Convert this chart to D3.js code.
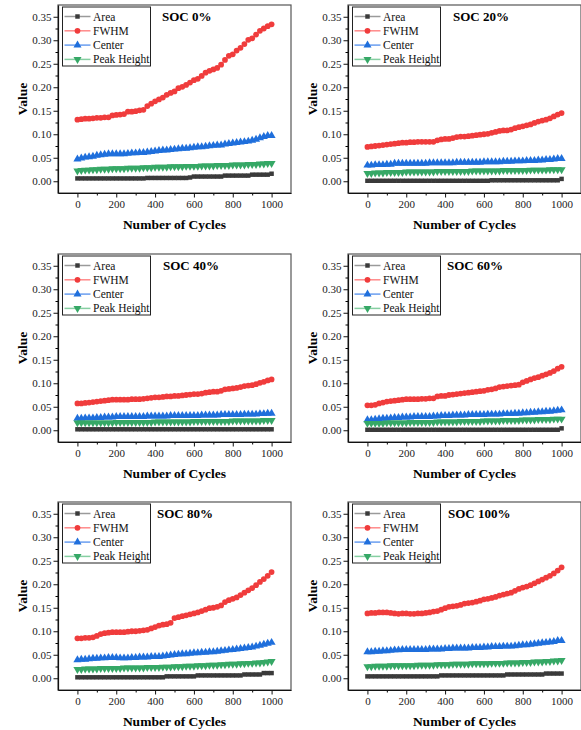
<!DOCTYPE html>
<html>
<head>
<meta charset="utf-8">
<script src="https://cdn.jsdelivr.net/npm/d3@7"></script>
<style>
  body { margin: 0; background: #fff; }
  svg text { font-family: "Liberation Serif", "Times New Roman", serif; }
</style>
</head>
<body>
<svg id="chart" width="581" height="730"></svg>
<script>
// cycle numbers on the x axis
let cycles = [0, 20, 40, 60, 80, 100, 120, 140, 160, 180,
  200, 220, 240, 260, 280, 300, 320, 340, 360, 380,
  400, 420, 440, 460, 480, 500, 520, 540, 560, 580,
  600, 620, 640, 660, 680, 700, 720, 740, 760, 780,
  800, 820, 840, 860, 880, 900, 920, 940, 960, 980,
  1000];

let seriesNames = ["Area", "FWHM", "Center", "Peak Height"];
let panelTitles = ["SOC 0%", "SOC 20%", "SOC 40%", "SOC 60%", "SOC 80%", "SOC 100%"];
let xTicks = [0, 200, 400, 600, 800, 1000];
let yTicks = [0, 0.05, 0.10, 0.15, 0.20, 0.25, 0.30, 0.35];

// SOC 0%
let area0 = [0.006, 0.006, 0.006, 0.006, 0.006, 0.006, 0.006, 0.006, 0.006, 0.006,
  0.006, 0.006, 0.006, 0.006, 0.006, 0.006, 0.006, 0.006, 0.007, 0.007,
  0.007, 0.007, 0.007, 0.007, 0.007, 0.007, 0.007, 0.007, 0.007, 0.008,
  0.010, 0.010, 0.010, 0.010, 0.010, 0.010, 0.010, 0.010, 0.012, 0.012,
  0.012, 0.012, 0.012, 0.012, 0.012, 0.014, 0.014, 0.014, 0.014, 0.014,
  0.016];
let fwhm0 = [0.131, 0.132, 0.133, 0.133, 0.134, 0.135, 0.135, 0.136, 0.136, 0.140,
  0.141, 0.142, 0.143, 0.148, 0.148, 0.149, 0.151, 0.152, 0.160, 0.165,
  0.170, 0.174, 0.178, 0.184, 0.188, 0.191, 0.198, 0.201, 0.205, 0.210,
  0.215, 0.218, 0.224, 0.231, 0.235, 0.238, 0.241, 0.248, 0.258, 0.267,
  0.270, 0.278, 0.284, 0.292, 0.301, 0.304, 0.312, 0.320, 0.325, 0.330,
  0.334];
let center0 = [0.047, 0.049, 0.051, 0.052, 0.053, 0.055, 0.056, 0.057, 0.058, 0.058,
  0.058, 0.058, 0.058, 0.059, 0.060, 0.060, 0.061, 0.061, 0.062, 0.063,
  0.064, 0.065, 0.066, 0.066, 0.067, 0.068, 0.069, 0.070, 0.070, 0.071,
  0.072, 0.073, 0.073, 0.074, 0.075, 0.076, 0.077, 0.077, 0.079, 0.080,
  0.081, 0.082, 0.083, 0.084, 0.085, 0.087, 0.089, 0.092, 0.095, 0.097,
  0.097];
let peak0 = [0.022, 0.023, 0.024, 0.024, 0.025, 0.025, 0.026, 0.026, 0.026, 0.027,
  0.027, 0.027, 0.027, 0.028, 0.028, 0.028, 0.028, 0.029, 0.029, 0.029,
  0.030, 0.030, 0.030, 0.030, 0.031, 0.031, 0.031, 0.031, 0.032, 0.032,
  0.032, 0.032, 0.033, 0.033, 0.033, 0.033, 0.034, 0.034, 0.034, 0.034,
  0.035, 0.035, 0.035, 0.035, 0.036, 0.036, 0.036, 0.037, 0.037, 0.038,
  0.038];

// SOC 20%
let area20 = [0.001, 0.001, 0.001, 0.001, 0.001, 0.001, 0.001, 0.001, 0.001, 0.001,
  0.001, 0.001, 0.001, 0.001, 0.001, 0.001, 0.001, 0.001, 0.001, 0.001,
  0.001, 0.001, 0.001, 0.001, 0.001, 0.001, 0.001, 0.001, 0.001, 0.001,
  0.001, 0.001, 0.002, 0.002, 0.002, 0.002, 0.002, 0.002, 0.002, 0.002,
  0.002, 0.002, 0.002, 0.002, 0.002, 0.002, 0.002, 0.002, 0.002, 0.002,
  0.005];
let fwhm20 = [0.073, 0.074, 0.075, 0.076, 0.077, 0.078, 0.079, 0.080, 0.081, 0.082,
  0.082, 0.083, 0.083, 0.084, 0.084, 0.084, 0.084, 0.084, 0.087, 0.089,
  0.090, 0.090, 0.092, 0.094, 0.095, 0.095, 0.096, 0.097, 0.098, 0.099,
  0.100, 0.101, 0.103, 0.105, 0.107, 0.108, 0.108, 0.110, 0.113, 0.115,
  0.117, 0.119, 0.121, 0.124, 0.127, 0.129, 0.131, 0.134, 0.138, 0.142,
  0.145];
let center20 = [0.034, 0.034, 0.035, 0.035, 0.035, 0.036, 0.036, 0.038, 0.038, 0.038,
  0.038, 0.038, 0.038, 0.038, 0.038, 0.038, 0.039, 0.039, 0.039, 0.039,
  0.039, 0.039, 0.039, 0.040, 0.040, 0.040, 0.040, 0.040, 0.040, 0.040,
  0.041, 0.041, 0.041, 0.041, 0.041, 0.042, 0.042, 0.042, 0.043, 0.043,
  0.043, 0.044, 0.044, 0.044, 0.045, 0.045, 0.046, 0.046, 0.047, 0.048,
  0.048];
let peak20 = [0.017, 0.017, 0.018, 0.018, 0.018, 0.019, 0.019, 0.019, 0.019, 0.019,
  0.020, 0.020, 0.020, 0.020, 0.020, 0.020, 0.020, 0.020, 0.021, 0.021,
  0.021, 0.021, 0.021, 0.021, 0.021, 0.021, 0.021, 0.022, 0.022, 0.022,
  0.022, 0.022, 0.022, 0.022, 0.022, 0.023, 0.023, 0.023, 0.023, 0.023,
  0.023, 0.023, 0.024, 0.024, 0.024, 0.024, 0.024, 0.025, 0.025, 0.025,
  0.025];

// SOC 40%
let area40 = [0.002, 0.002, 0.002, 0.002, 0.002, 0.002, 0.002, 0.002, 0.002, 0.002,
  0.002, 0.002, 0.002, 0.002, 0.002, 0.002, 0.002, 0.002, 0.002, 0.002,
  0.002, 0.002, 0.002, 0.002, 0.002, 0.002, 0.002, 0.002, 0.002, 0.002,
  0.002, 0.002, 0.002, 0.002, 0.002, 0.002, 0.002, 0.002, 0.002, 0.002,
  0.002, 0.002, 0.002, 0.002, 0.002, 0.002, 0.002, 0.002, 0.002, 0.002,
  0.002];
let fwhm40 = [0.057, 0.057, 0.058, 0.059, 0.060, 0.061, 0.062, 0.063, 0.064, 0.065,
  0.065, 0.065, 0.065, 0.065, 0.066, 0.066, 0.066, 0.067, 0.068, 0.069,
  0.070, 0.070, 0.071, 0.072, 0.072, 0.073, 0.073, 0.074, 0.075, 0.076,
  0.077, 0.077, 0.078, 0.080, 0.081, 0.082, 0.082, 0.084, 0.087, 0.088,
  0.089, 0.090, 0.092, 0.094, 0.095, 0.096, 0.098, 0.101, 0.103, 0.106,
  0.108];
let center40 = [0.025, 0.025, 0.026, 0.026, 0.026, 0.027, 0.027, 0.028, 0.028, 0.028,
  0.029, 0.029, 0.029, 0.029, 0.029, 0.029, 0.029, 0.029, 0.030, 0.030,
  0.030, 0.030, 0.030, 0.030, 0.031, 0.031, 0.031, 0.031, 0.031, 0.031,
  0.031, 0.031, 0.032, 0.032, 0.032, 0.032, 0.032, 0.033, 0.033, 0.033,
  0.033, 0.033, 0.033, 0.034, 0.034, 0.034, 0.034, 0.035, 0.035, 0.036,
  0.036];
let peak40 = [0.016, 0.016, 0.016, 0.016, 0.016, 0.016, 0.016, 0.016, 0.016, 0.016,
  0.017, 0.017, 0.017, 0.017, 0.017, 0.017, 0.017, 0.017, 0.017, 0.017,
  0.018, 0.018, 0.018, 0.018, 0.018, 0.018, 0.018, 0.018, 0.018, 0.018,
  0.019, 0.019, 0.019, 0.019, 0.019, 0.019, 0.019, 0.019, 0.019, 0.019,
  0.020, 0.020, 0.020, 0.020, 0.020, 0.020, 0.020, 0.020, 0.021, 0.021,
  0.021];

// SOC 60%
let area60 = [0.001, 0.001, 0.001, 0.001, 0.001, 0.001, 0.001, 0.001, 0.001, 0.001,
  0.001, 0.001, 0.001, 0.001, 0.001, 0.001, 0.001, 0.001, 0.001, 0.001,
  0.001, 0.001, 0.001, 0.001, 0.001, 0.001, 0.001, 0.001, 0.001, 0.001,
  0.001, 0.001, 0.001, 0.001, 0.001, 0.001, 0.001, 0.001, 0.001, 0.001,
  0.001, 0.001, 0.001, 0.001, 0.001, 0.001, 0.001, 0.001, 0.001, 0.001,
  0.004];
let fwhm60 = [0.053, 0.053, 0.054, 0.057, 0.059, 0.061, 0.062, 0.063, 0.064, 0.065,
  0.066, 0.066, 0.066, 0.066, 0.067, 0.067, 0.068, 0.068, 0.072, 0.073,
  0.073, 0.075, 0.076, 0.077, 0.078, 0.079, 0.080, 0.081, 0.082, 0.083,
  0.084, 0.086, 0.087, 0.089, 0.092, 0.093, 0.094, 0.095, 0.096, 0.097,
  0.102, 0.105, 0.108, 0.111, 0.113, 0.116, 0.119, 0.122, 0.126, 0.131,
  0.135];
let center60 = [0.022, 0.022, 0.023, 0.024, 0.025, 0.025, 0.026, 0.027, 0.027, 0.028,
  0.028, 0.028, 0.029, 0.029, 0.029, 0.029, 0.029, 0.030, 0.030, 0.031,
  0.031, 0.031, 0.032, 0.032, 0.032, 0.032, 0.033, 0.033, 0.033, 0.033,
  0.033, 0.034, 0.034, 0.034, 0.034, 0.035, 0.035, 0.035, 0.036, 0.036,
  0.037, 0.037, 0.038, 0.038, 0.039, 0.039, 0.040, 0.040, 0.041, 0.042,
  0.043];
let peak60 = [0.015, 0.015, 0.015, 0.015, 0.015, 0.016, 0.016, 0.016, 0.016, 0.016,
  0.016, 0.017, 0.017, 0.017, 0.017, 0.017, 0.017, 0.017, 0.018, 0.018,
  0.018, 0.018, 0.018, 0.018, 0.019, 0.019, 0.019, 0.019, 0.019, 0.019,
  0.020, 0.020, 0.020, 0.020, 0.020, 0.021, 0.021, 0.021, 0.021, 0.021,
  0.022, 0.022, 0.022, 0.022, 0.023, 0.023, 0.023, 0.023, 0.024, 0.024,
  0.024];

// SOC 80%
let area80 = [0.002, 0.002, 0.002, 0.002, 0.002, 0.002, 0.002, 0.002, 0.002, 0.002,
  0.002, 0.002, 0.002, 0.002, 0.002, 0.002, 0.002, 0.002, 0.002, 0.002,
  0.002, 0.002, 0.002, 0.004, 0.004, 0.004, 0.004, 0.004, 0.004, 0.004,
  0.004, 0.006, 0.006, 0.006, 0.006, 0.006, 0.006, 0.006, 0.006, 0.006,
  0.006, 0.006, 0.006, 0.008, 0.008, 0.008, 0.008, 0.008, 0.011, 0.011,
  0.011];
let fwhm80 = [0.085, 0.085, 0.086, 0.086, 0.087, 0.090, 0.094, 0.096, 0.097, 0.098,
  0.098, 0.098, 0.098, 0.099, 0.100, 0.100, 0.101, 0.102, 0.103, 0.106,
  0.109, 0.112, 0.114, 0.115, 0.118, 0.128, 0.130, 0.132, 0.134, 0.136,
  0.138, 0.140, 0.143, 0.146, 0.149, 0.150, 0.152, 0.155, 0.162, 0.166,
  0.169, 0.172, 0.177, 0.182, 0.187, 0.192, 0.198, 0.205, 0.211, 0.218,
  0.226];
let center80 = [0.039, 0.040, 0.040, 0.041, 0.042, 0.042, 0.043, 0.043, 0.044, 0.044,
  0.044, 0.043, 0.043, 0.043, 0.044, 0.044, 0.045, 0.045, 0.045, 0.046,
  0.046, 0.046, 0.047, 0.048, 0.049, 0.050, 0.051, 0.052, 0.052, 0.053,
  0.054, 0.054, 0.055, 0.055, 0.056, 0.056, 0.057, 0.058, 0.059, 0.060,
  0.061, 0.062, 0.063, 0.064, 0.065, 0.066, 0.068, 0.070, 0.072, 0.074,
  0.076];
let peak80 = [0.019, 0.019, 0.020, 0.020, 0.020, 0.020, 0.021, 0.021, 0.021, 0.021,
  0.021, 0.021, 0.022, 0.022, 0.022, 0.022, 0.022, 0.022, 0.023, 0.023,
  0.023, 0.023, 0.024, 0.024, 0.024, 0.025, 0.025, 0.025, 0.026, 0.026,
  0.026, 0.027, 0.027, 0.027, 0.028, 0.028, 0.028, 0.029, 0.029, 0.030,
  0.030, 0.030, 0.031, 0.031, 0.032, 0.032, 0.033, 0.033, 0.034, 0.035,
  0.036];

// SOC 100%
let area100 = [0.004, 0.004, 0.004, 0.004, 0.004, 0.004, 0.004, 0.004, 0.004, 0.004,
  0.004, 0.004, 0.004, 0.004, 0.004, 0.004, 0.004, 0.004, 0.004, 0.006,
  0.006, 0.006, 0.006, 0.006, 0.006, 0.006, 0.006, 0.006, 0.006, 0.006,
  0.006, 0.006, 0.006, 0.006, 0.006, 0.006, 0.008, 0.008, 0.008, 0.008,
  0.008, 0.008, 0.008, 0.008, 0.008, 0.008, 0.010, 0.010, 0.010, 0.010,
  0.010];
let fwhm100 = [0.138, 0.139, 0.139, 0.140, 0.140, 0.140, 0.139, 0.138, 0.137, 0.138,
  0.138, 0.137, 0.137, 0.138, 0.138, 0.139, 0.140, 0.142, 0.143, 0.146,
  0.149, 0.152, 0.153, 0.154, 0.156, 0.159, 0.160, 0.161, 0.163, 0.165,
  0.168, 0.169, 0.171, 0.173, 0.176, 0.178, 0.180, 0.182, 0.186, 0.190,
  0.193, 0.195, 0.198, 0.202, 0.206, 0.210, 0.214, 0.218, 0.223, 0.229,
  0.236];
let center100 = [0.056, 0.056, 0.057, 0.057, 0.058, 0.058, 0.059, 0.060, 0.060, 0.061,
  0.061, 0.061, 0.061, 0.061, 0.061, 0.061, 0.062, 0.062, 0.062, 0.062,
  0.063, 0.063, 0.064, 0.064, 0.064, 0.064, 0.064, 0.065, 0.065, 0.065,
  0.066, 0.066, 0.067, 0.067, 0.067, 0.068, 0.068, 0.068, 0.069, 0.070,
  0.071, 0.071, 0.072, 0.073, 0.074, 0.075, 0.076, 0.077, 0.078, 0.080,
  0.080];
let peak100 = [0.025, 0.025, 0.026, 0.026, 0.026, 0.026, 0.027, 0.027, 0.027, 0.027,
  0.027, 0.027, 0.027, 0.028, 0.028, 0.028, 0.028, 0.028, 0.029, 0.029,
  0.029, 0.029, 0.030, 0.030, 0.030, 0.030, 0.030, 0.031, 0.031, 0.031,
  0.031, 0.031, 0.032, 0.032, 0.032, 0.032, 0.033, 0.033, 0.033, 0.033,
  0.034, 0.034, 0.034, 0.035, 0.035, 0.035, 0.036, 0.036, 0.037, 0.037,
  0.038];

let panelData = [
  [area0, fwhm0, center0, peak0],
  [area20, fwhm20, center20, peak20],
  [area40, fwhm40, center40, peak40],
  [area60, fwhm60, center60, peak60],
  [area80, fwhm80, center80, peak80],
  [area100, fwhm100, center100, peak100]
];

// layout / style
let colLeft = [58, 348],
    rowTop = [5, 254, 502],
    width = 233,
    height = 188;
let titleDx = [104, 105, 105, 99, 99, 100];

let markerColor = ["#3a3a3a", "#f03c3c", "#1f6fdc", "#36a866"];
let lineColor = ["#9a9a9a", "#ff8a8a", "#6a9ef0", "#86cfa2"];
let symbols = [d3.symbolSquare, d3.symbolCircle, d3.symbolTriangle, d3.symbolTriangle];
let symSize = [20, 26, 28, 28];
let symRot = [0, 0, 0, 180];

let x = d3.scaleLinear().domain([-100, 1100]).range([0, width]);
let y = d3.scaleLinear().domain([-0.025, 0.375]).range([height, 0]);

let svg = d3.select("#chart");

panelData.forEach(function(series, p) {
  let g = svg.append("g")
      .attr("transform", "translate(" + colLeft[p % 2] + "," + rowTop[Math.floor(p / 2)] + ")");

  // frame
  g.append("rect")
      .attr("width", width)
      .attr("height", height)
      .attr("fill", "none")
      .attr("stroke", "#555")
      .attr("stroke-width", 1.2);

  // minor ticks
  g.append("g")
      .attr("transform", "translate(0," + height + ")")
      .call(d3.axisBottom(x).tickValues([100, 300, 500, 700, 900]).tickSize(2.5).tickFormat(""))
      .call(function(a) { a.select(".domain").remove(); });
  g.append("g")
      .call(d3.axisLeft(y).tickValues([0.025, 0.075, 0.125, 0.175, 0.225, 0.275, 0.325]).tickSize(2.5).tickFormat(""))
      .call(function(a) { a.select(".domain").remove(); });

  // major axes
  let xa = g.append("g")
      .attr("transform", "translate(0," + height + ")")
      .call(d3.axisBottom(x).tickValues(xTicks).tickSize(4.5).tickPadding(3).tickSizeOuter(0).tickFormat(d3.format("d")));
  let ya = g.append("g")
      .call(d3.axisLeft(y).tickValues(yTicks).tickSize(4.5).tickPadding(2).tickSizeOuter(0).tickFormat(d3.format(".2f")));
  [xa, ya].forEach(function(a) {
    a.attr("font-family", "Liberation Serif, serif");
    a.selectAll("text").style("font-size", "11px").attr("fill", "#222");
    a.selectAll("line").attr("stroke", "#111");
    a.select(".domain").attr("stroke", "#111").attr("stroke-width", 1.2);
  });

  // axis labels
  g.append("text")
      .attr("transform", "rotate(-90)")
      .attr("x", -height / 2)
      .attr("y", -31)
      .style("text-anchor", "middle")
      .style("font-weight", "bold")
      .style("font-size", "13.5px")
      .text("Value");
  g.append("text")
      .attr("x", x(500))
      .attr("y", height + 36)
      .style("text-anchor", "middle")
      .style("font-weight", "bold")
      .style("font-size", "13.5px")
      .text("Number of Cycles");

  // series: faint line + markers
  series.forEach(function(vals, s) {
    let pts = vals.map(function(v, i) { return [cycles[i], v]; });
    g.append("path")
        .datum(pts)
        .attr("fill", "none")
        .attr("stroke", lineColor[s])
        .attr("stroke-width", 1)
        .attr("d", d3.line().x(function(d) { return x(d[0]); }).y(function(d) { return y(d[1]); }));
    g.selectAll(".m" + s)
        .data(pts)
        .enter()
        .append("path")
        .attr("class", "m" + s)
        .attr("d", d3.symbol().type(symbols[s]).size(symSize[s]))
        .attr("fill", markerColor[s])
        .attr("transform", function(d) {
          return "translate(" + x(d[0]) + "," + y(d[1]) + ") rotate(" + symRot[s] + ")";
        });
  });

  // legend
  let lg = g.append("g").attr("transform", "translate(4.5,2)");
  lg.append("rect")
      .attr("width", 88)
      .attr("height", 59)
      .attr("fill", "#fff")
      .attr("stroke", "#222")
      .attr("stroke-width", 1);
  seriesNames.forEach(function(name, s) {
    let ly = 9.5 + s * 14.3;
    lg.append("line")
        .attr("x1", 2).attr("x2", 28)
        .attr("y1", ly).attr("y2", ly)
        .attr("stroke", lineColor[s])
        .attr("stroke-width", 1.5);
    lg.append("path")
        .attr("d", d3.symbol().type(symbols[s]).size(symSize[s]))
        .attr("fill", markerColor[s])
        .attr("transform", "translate(15," + ly + ") rotate(" + symRot[s] + ")");
    lg.append("text")
        .attr("x", 30.5)
        .attr("y", ly + 4)
        .style("font-size", "11.5px")
        .attr("fill", "#111")
        .text(name);
  });

  // panel title
  g.append("text")
      .attr("x", titleDx[p])
      .attr("y", 16)
      .style("font-weight", "bold")
      .style("font-size", "13px")
      .text(panelTitles[p]);
});
</script>
</body>
</html>
